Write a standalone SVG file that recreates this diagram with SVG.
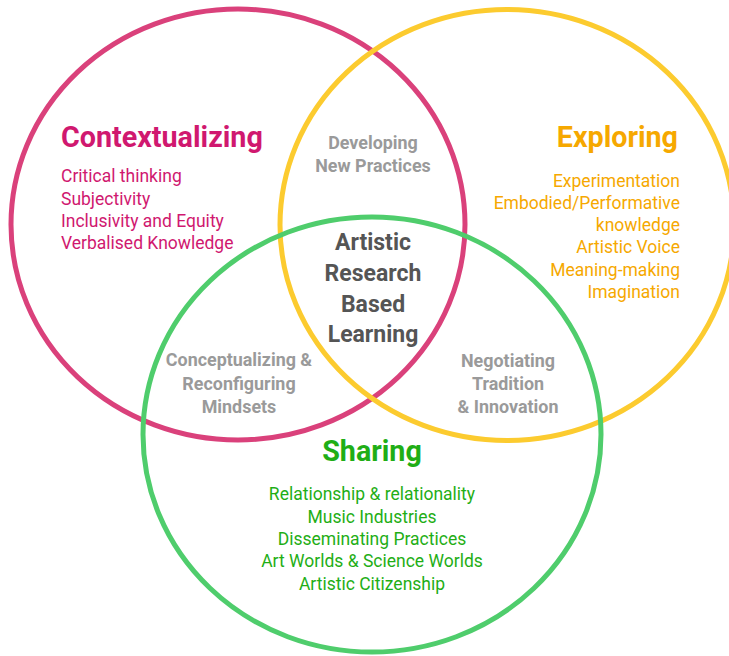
<svg xmlns="http://www.w3.org/2000/svg" width="729" height="656" viewBox="0 0 729 656">
<style>
text{font-family:Roboto,"Liberation Sans",sans-serif}
.c{fill:none;stroke-width:5}
.h{font-weight:700;font-size:28.7px}
.i{font-size:17.5px;font-weight:400}
.g{font-weight:700;font-size:17.9px;fill:#9a9a9a;text-anchor:middle}
.m{font-weight:700;font-size:23px;fill:#555;text-anchor:middle}
.pk{fill:#d0186f}
.yl{fill:#f6a800;text-anchor:end}
.gr{fill:#1fae16;text-anchor:middle}
</style>
<rect width="729" height="656" fill="#fff"/>
<g id="connectors"></g>
<g id="contextualizing">
<ellipse class="c" cx="238" cy="224.5" rx="227" ry="215.5" stroke="#da417b"/>
<text class="h pk" x="61" y="147">Contextualizing</text>
<text class="i pk" x="61" y="182">Critical thinking</text>
<text class="i pk" x="61" y="204.5">Subjectivity</text>
<text class="i pk" x="61" y="227">Inclusivity and Equity</text>
<text class="i pk" x="61" y="249">Verbalised Knowledge</text>
</g>
<g id="exploring">
<ellipse class="c" cx="507" cy="225" rx="227" ry="215.5" stroke="#fccb2f"/>
<text class="h yl" x="678" y="147">Exploring</text>
<text class="i yl" x="680" y="187">Experimentation</text>
<text class="i yl" x="680" y="209">Embodied/Performative</text>
<text class="i yl" x="680" y="231">knowledge</text>
<text class="i yl" x="680" y="253">Artistic Voice</text>
<text class="i yl" x="680" y="276">Meaning-making</text>
<text class="i yl" x="680" y="298">Imagination</text>
</g>
<g id="sharing">
<ellipse class="c" cx="372" cy="434.5" rx="229" ry="217.5" stroke="#4fcd6c"/>
<text class="h gr" x="372" y="461">Sharing</text>
<text class="i gr" x="372" y="500">Relationship &amp; relationality</text>
<text class="i gr" x="372" y="522.5">Music Industries</text>
<text class="i gr" x="372" y="545">Disseminating Practices</text>
<text class="i gr" x="372" y="567">Art Worlds &amp; Science Worlds</text>
<text class="i gr" x="372" y="589.5">Artistic Citizenship</text>
</g>
<g id="developing">
<text class="g" x="373" y="149">Developing</text>
<text class="g" x="373" y="172">New Practices</text>
</g>
<g id="conceptualizing">
<text class="g" x="239" y="366">Conceptualizing &amp;</text>
<text class="g" x="239" y="389.5">Reconfiguring</text>
<text class="g" x="239" y="413">Mindsets</text>
</g>
<g id="negotiating">
<text class="g" x="508" y="367">Negotiating</text>
<text class="g" x="508" y="390">Tradition</text>
<text class="g" x="508" y="413">&amp; Innovation</text>
</g>
<g id="center">
<text class="m" x="373" y="250">Artistic</text>
<text class="m" x="373" y="281">Research</text>
<text class="m" x="373" y="312">Based</text>
<text class="m" x="373" y="342">Learning</text>
</g>
</svg>
